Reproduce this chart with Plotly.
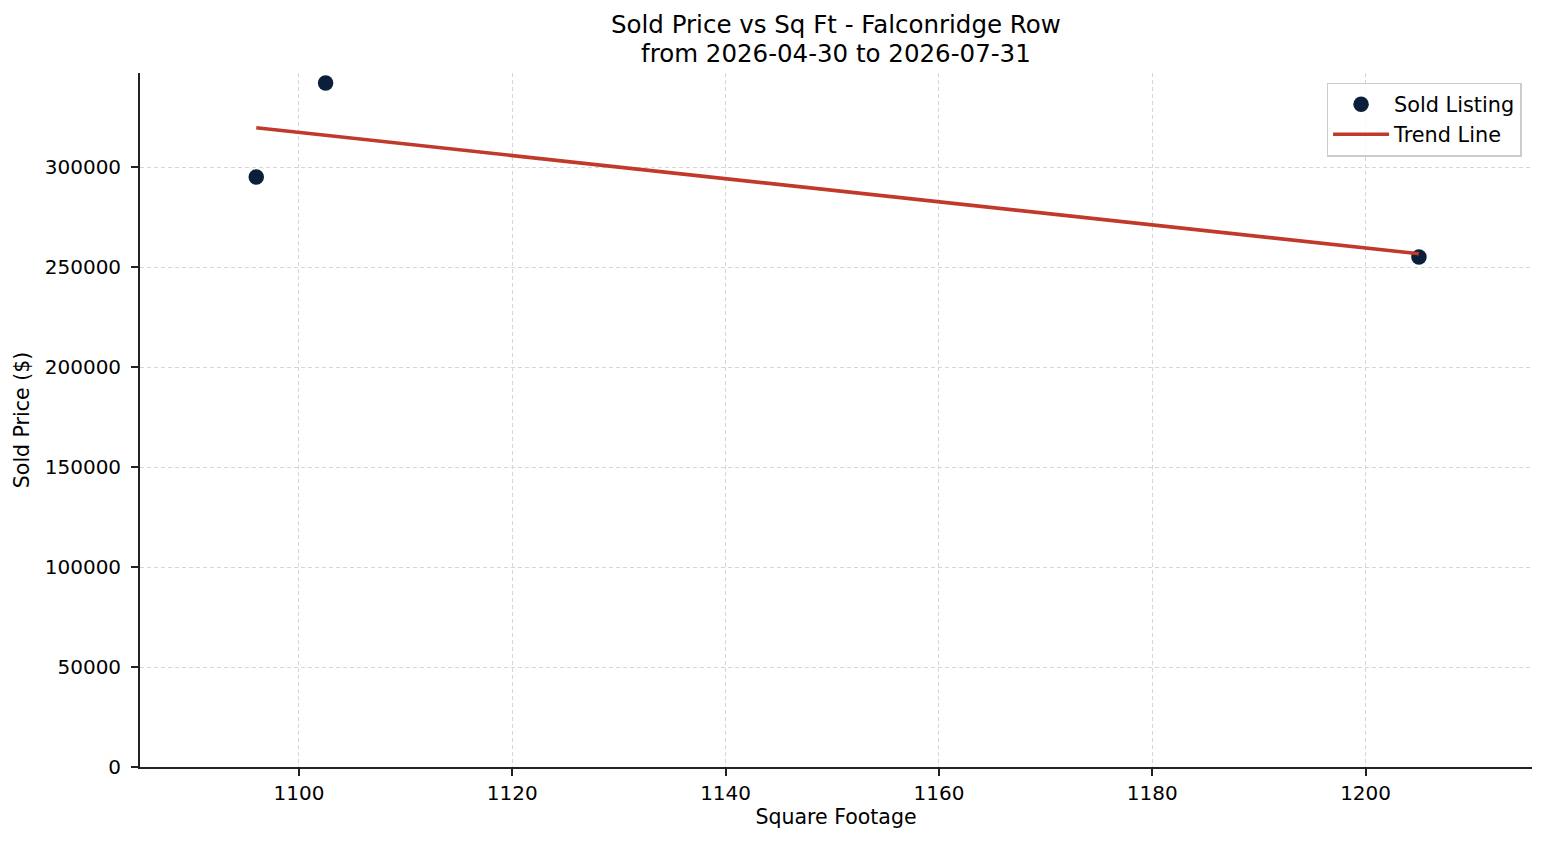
import plotly.graph_objects as go

sqft = [1096, 1102.5, 1205]
sold_price = [295000, 342000, 255000]
trend_sqft = [1096, 1205]
trend_price = [319600, 256600]
x_ticks = [1100, 1120, 1140, 1160, 1180, 1200]
y_ticks = [0, 50000, 100000, 150000, 200000, 250000, 300000]
title_lines = ["Sold Price vs Sq Ft - Falconridge Row", "from 2026-04-30 to 2026-07-31"]

FONT = "DejaVu Sans"

fig = go.Figure()
fig.add_trace(go.Scatter(
    x=sqft, y=sold_price, mode="markers", name="Sold Listing",
    marker=dict(color="#0b1f3a", size=15.5, line=dict(width=0)),
))
fig.add_trace(go.Scatter(
    x=trend_sqft, y=trend_price, mode="lines", name="Trend Line",
    line=dict(color="#c0392b", width=3.6),
))

axis_common = dict(
    showline=True, linecolor="#222", linewidth=1.8,
    ticks="outside", ticklen=7, tickwidth=1.8, tickcolor="#222",
    showgrid=True, gridcolor="#d6d6d6", griddash="4px,3px", gridwidth=1,
    zeroline=False, mirror=False,
    tickfont=dict(family=FONT, size=20, color="#000"),
    title_font=dict(family=FONT, size=20.5, color="#000"),
)

for text, ypos in zip(title_lines, [1.0692, 1.0288]):
    fig.add_annotation(
        text=text, xref="paper", yref="paper", x=0.5, y=ypos,
        xanchor="center", yanchor="middle", showarrow=False,
        font=dict(family=FONT, size=24.5, color="#000"),
    )

fig.update_layout(
    width=1539, height=837,
    plot_bgcolor="white", paper_bgcolor="white",
    margin=dict(l=127, r=15, t=65, b=78),
    xaxis=dict(range=[1085.1, 1215.6], tickvals=x_ticks, ticklabelstandoff=0,
               title=dict(text="Square Footage", standoff=6), **axis_common),
    yaxis=dict(range=[0, 347000], tickvals=y_ticks, ticklabelstandoff=6,
               ticktext=[str(v) for v in y_ticks],
               title=dict(text="Sold Price ($)", standoff=10), **axis_common),
    legend=dict(
        x=0.9925, y=0.986, xanchor="right", yanchor="top",
        bgcolor="rgba(255,255,255,0.8)", bordercolor="#cccccc", borderwidth=1.5,
        font=dict(family=FONT, size=20.8, color="#000"),
        itemwidth=56, tracegroupgap=0,
    ),
    showlegend=True,
)

fig.write_html("out.html")
